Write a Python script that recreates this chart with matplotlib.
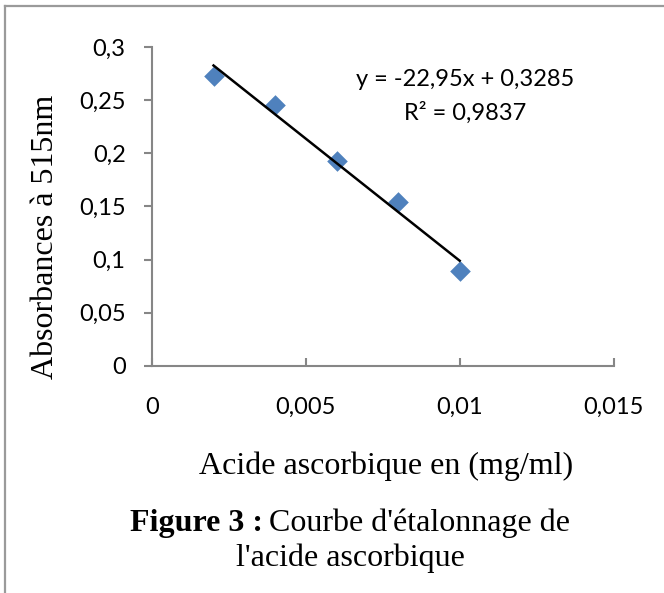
import numpy as np
import matplotlib
matplotlib.use("Agg")
import matplotlib.pyplot as plt
from matplotlib.lines import Line2D

# Data
concentration = [0.002, 0.004, 0.006, 0.008, 0.010]
absorbance = [0.273, 0.245, 0.193, 0.154, 0.089]
x_ticks = [0, 0.005, 0.01, 0.015]
x_tick_labels = ["0", "0,005", "0,01", "0,015"]
y_ticks = [0, 0.05, 0.1, 0.15, 0.2, 0.25, 0.3]
y_tick_labels = ["0", "0,05", "0,1", "0,15", "0,2", "0,25", "0,3"]
equation_label = "y = -22,95x + 0,3285"
r2_label = "R² = 0,9837"
x_label = "Acide ascorbique en (mg/ml)"
y_label = "Absorbances à 515nm"

fig = plt.figure(figsize=(6.64, 5.93), dpi=100)
ax = fig.add_axes([152/664, 1-366/593, (613.5-152)/664, (366-47)/593])

ax.scatter(concentration, absorbance, marker='D', s=10.5**2, color='#4F81BD',
           zorder=3, linewidths=0)
slope, intercept = np.polyfit(concentration, absorbance, 1)
xs = np.array([min(concentration), max(concentration)])
ax.plot(xs, slope*xs + intercept, color='black', lw=1.8, zorder=4)

ax.set_xlim(0, 0.015)
ax.set_ylim(0, 0.3)
ax.set_xticks(x_ticks)
ax.set_xticklabels(x_tick_labels)
ax.set_yticks(y_ticks)
ax.set_yticklabels(y_tick_labels)

for s in ['top', 'right']:
    ax.spines[s].set_visible(False)
for s in ['left', 'bottom']:
    ax.spines[s].set_color('#868686')
    ax.spines[s].set_linewidth(1.5)

fs = 17
ax.tick_params(axis='y', direction='out', length=6, width=1.5, color='#868686',
               pad=13)
ax.tick_params(axis='x', direction='in', length=6, width=1.5, color='#868686',
               pad=22)
for lab in ax.get_xticklabels() + ax.get_yticklabels():
    lab.set_fontfamily('Lato')
    lab.set_fontsize(fs)
    lab.set_color('black')

fig.text(465/664, 1-80/593, equation_label, ha='center', va='center',
         family='Lato', fontsize=fs)
fig.text(465/664, 1-113/593, r2_label, ha='center', va='center',
         family='Lato', fontsize=fs)

serif = 'Liberation Serif'
sfs = 23
fig.text(386/664, 1-466/593, x_label, ha='center', va='center',
         family=serif, fontsize=sfs)
fig.text(46/664, 1-237/593, y_label, ha='center', va='center', rotation=90,
         family=serif, fontsize=sfs)

# Caption: bold part + regular part
t1 = fig.text(130/664, 1-523/593, "Figure 3 :", ha='left', va='center',
              family=serif, fontsize=sfs, fontweight='bold')
fig.canvas.draw()
bb = t1.get_window_extent()
fig.text((bb.x1 + 6)/664, 1-523/593, "Courbe d'étalonnage de", ha='left',
         va='center', family=serif, fontsize=sfs)
fig.text(350/664, 1-558/593, "l'acide ascorbique", ha='center', va='center',
         family=serif, fontsize=sfs)

# Frame border (top and left visible)
fig.add_artist(Line2D([5/664, 1], [1-6/593, 1-6/593], transform=fig.transFigure,
                      color='#9a9a9a', lw=1.6))
fig.add_artist(Line2D([5/664, 5/664], [0, 1-6/593], transform=fig.transFigure,
                      color='#9a9a9a', lw=1.6))

fig.savefig('out.png', dpi=100)
